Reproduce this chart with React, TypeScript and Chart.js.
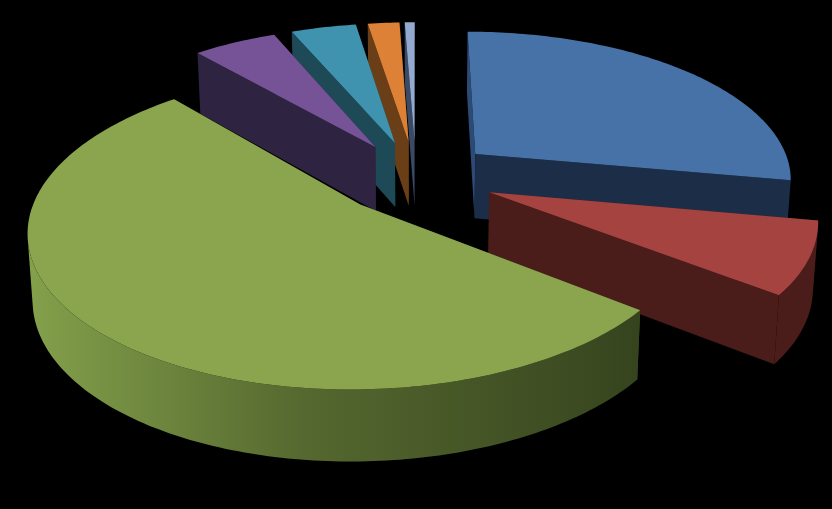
import { useEffect, useRef } from "react";
import { Chart, registerables } from "chart.js";

Chart.register(...registerables);

const categories = ["A", "B", "C", "D", "E", "F", "G"];
const shares = [27.9, 7.6, 53.1, 5.0, 3.9, 1.9, 0.6];
const topColors = ["#4672a8", "#a54340", "#8aa54d", "#755396", "#3f93ae", "#dd8137", "#93a9cf"];
const sideColors = ["#1b2d47", "#4a1c1a", "#384720", "#2e2340", "#1e4a57", "#6a3f17", "#3a4a66"];
const startWallColors = ["#2b4a76", "#4a1c1a", "#384720", "#2e2340", "#1e4a57", "#6a3f17", "#3a4a66"];

// fake 3d camera for the pie, excel style
const RADIUS = 318;
const EXPLODE = 79;
const CX = 416;
const CY = 177;
const TILT = 0.464;
const PERSP = 0.00048;

function project(X: number, Y: number) {
  const w = 1 / (1 + PERSP * Y);
  const depth = 33 + 32 * w;
  const x = CX + X * w;
  const y = CY - TILT * Y * w;
  return { x, y, bx: CX + (x - CX) * 0.987, by: y + depth };
}

function poly(ctx: CanvasRenderingContext2D, pts: [number, number][], fill: string | CanvasGradient) {
  ctx.beginPath();
  pts.forEach((p, i) => (i ? ctx.lineTo(p[0], p[1]) : ctx.moveTo(p[0], p[1])));
  ctx.closePath();
  ctx.fillStyle = fill;
  ctx.fill();
}

// only the part of the round wall that faces the camera, as one polygon per run
function drawRoundWall(ctx: CanvasRenderingContext2D, rim: any[], fill: string | CanvasGradient) {
  let run: any[] = [];
  const flush = () => {
    if (run.length > 1) {
      const pts: [number, number][] = run.map((p) => [p.x, p.y]);
      [...run].reverse().forEach((p) => pts.push([p.bx, p.by]));
      poly(ctx, pts, fill);
    }
    run = [];
  };
  for (let k = 0; k < rim.length - 1; k++) {
    const a = rim[k];
    const b = rim[k + 1];
    const facing = (b.x - a.x) * (a.by - a.y) - (b.y - a.y) * (a.bx - a.x) < 0;
    if (facing) {
      if (!run.length) run.push(a);
      run.push(b);
    } else {
      flush();
    }
  }
  flush();
}

const pie3d = {
  id: "pie3d",
  beforeDatasetDraw(chart: any) {
    const ctx: CanvasRenderingContext2D = chart.ctx;
    const arcs = chart.getDatasetMeta(0).data.map((arc: any, i: number) => {
      const a0 = arc.startAngle + Math.PI / 2;
      const a1 = arc.endAngle + Math.PI / 2;
      return { i, a0, a1, mid: (a0 + a1) / 2, offset: arc.options.offset };
    });
    arcs.sort((a: any, b: any) => Math.cos(b.mid) - Math.cos(a.mid));

    for (const s of arcs) {
      const ox = s.offset * Math.sin(s.mid);
      const oy = s.offset * Math.cos(s.mid);
      const apex = project(ox, oy);
      const steps = Math.max(4, Math.ceil(((s.a1 - s.a0) * 180) / Math.PI));
      const rim = [];
      for (let k = 0; k <= steps; k++) {
        const t = s.a0 + ((s.a1 - s.a0) * k) / steps;
        rim.push(project(ox + RADIUS * Math.sin(t), oy + RADIUS * Math.cos(t)));
      }

      // green gets the light sweep on its round wall
      let wall: string | CanvasGradient = sideColors[s.i];
      if (s.i === 2) {
        const g = ctx.createLinearGradient(30, 0, 640, 0);
        g.addColorStop(0, "#83a04b");
        g.addColorStop(0.45, "#55682f");
        g.addColorStop(1, "#36441e");
        wall = g;
      }

      const last = rim[rim.length - 1];
      poly(ctx, [[apex.x, apex.y], [rim[0].x, rim[0].y], [rim[0].bx, rim[0].by], [apex.bx, apex.by]], startWallColors[s.i]);
      poly(ctx, [[apex.x, apex.y], [last.x, last.y], [last.bx, last.by], [apex.bx, apex.by]], sideColors[s.i]);
      drawRoundWall(ctx, rim, wall);
      const top: [number, number][] = [[apex.x, apex.y]];
      rim.forEach((p) => top.push([p.x, p.y]));
      poly(ctx, top, topColors[s.i]);
    }
    return false;
  },
};

export default function App() {
  const canvasRef = useRef<HTMLCanvasElement>(null);

  useEffect(() => {
    if (!canvasRef.current) return;
    const chart = new Chart(canvasRef.current, {
      type: "pie",
      data: {
        labels: categories,
        datasets: [{ data: shares, backgroundColor: topColors, borderWidth: 0, offset: EXPLODE }],
      },
      options: {
        responsive: false,
        animation: false,
        plugins: { legend: { display: false }, tooltip: { enabled: false } },
      },
      plugins: [pie3d],
    } as any);
    return () => chart.destroy();
  }, []);

  return (
    <div style={{ position: "fixed", left: 0, top: 0, width: 832, height: 509, background: "#000" }}>
      <canvas ref={canvasRef} width={832} height={509} style={{ display: "block" }} />
    </div>
  );
}
